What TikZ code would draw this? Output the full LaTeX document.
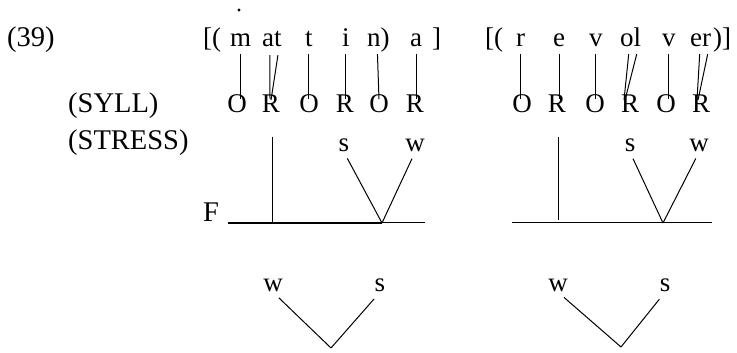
\documentclass[tikz,border=0pt]{standalone}
\usepackage{fontspec}
\setmainfont{Liberation Serif}
\begin{document}
\begin{tikzpicture}[x=1pt,y=1pt,
  every node/.style={inner sep=0pt, font=\fontsize{27}{31}\selectfont},
  big/.style={anchor=base west, font=\fontsize{28.5}{33}\selectfont},
  tok/.style={anchor=base west, text depth=0pt},
  syl/.style={anchor=base, text height=0.67em, text depth=0pt},
  lab/.style={anchor=base, text depth=0pt},
  conn/.style={line width=1pt},
  vl/.style={conn, shorten <=7pt, shorten >=7pt}]
\useasboundingbox (0,0) rectangle (737,353);
% labels
\node[big] (num) at (7,306) {(39)};
\node[big] (syll) at (68,240) {(SYLL)};
\node[big] (stress) at (68,203) {(STRESS)};
\node[big] (F) at (203,131) {F};
\node[circle, fill, minimum size=3.4pt] (dot) at (239,343) {};
% left word
\node[tok] (lb1) at (203,306) {[(};
\node[tok] (a1) at (230,306) {m};
\node[tok] (a2) at (262,306) {at};
\node[tok] (a3) at (305,306) {t};
\node[tok] (a4) at (342,306) {i};
\node[tok] (a5) at (367,306) {n)};
\node[tok] (a6) at (410,306) {a};
\node[tok] (rb1) at (432,306) {]};
\node[syl] (p1) at (237,240) {O};
\node[syl] (p2) at (271,240) {R};
\node[syl] (p3) at (309,240) {O};
\node[syl] (p4) at (345,240) {R};
\node[syl] (p5) at (379,240) {O};
\node[syl] (p6) at (415,240) {R};
\draw[vl] (a1.south) -- (a1.south |- p1.north);
\draw[conn] ([xshift=-2pt,yshift=-8pt]a2.south) -- ([xshift=-1pt,yshift=7pt]p2.north);
\draw[conn] ([xshift=6pt,yshift=-8pt]a2.south) -- ([xshift=0pt,yshift=6pt]p2.north);
\draw[vl] (a3.south) -- (a3.south |- p3.north);
\draw[vl] (a4.south) -- (a4.south |- p4.north);
\draw[conn] ([xshift=-1pt,yshift=-7pt]a5.south) -- ([yshift=7pt]p5.north);
\draw[vl] (a6.south) -- (a6.south |- p6.north);
% right word
\node[tok] (lb2) at (485,306) {[(};
\node[tok] (b1) at (516,306) {r};
\node[tok] (b2) at (553,306) {e};
\node[tok] (b3) at (589,306) {v};
\node[tok] (b4) at (620,306) {ol};
\node[tok] (b5) at (662,306) {v};
\node[tok] (b6) at (690,306) {er};
\node[tok] (rb2) at (713,306) {)]};
\node[syl] (q1) at (522,240) {O};
\node[syl] (q2) at (557,240) {R};
\node[syl] (q3) at (595,240) {O};
\node[syl] (q4) at (630,240) {R};
\node[syl] (q5) at (666,240) {O};
\node[syl] (q6) at (701,240) {R};
\draw[vl] (b1.south) -- (b1.south |- q1.north);
\draw[vl] (b2.south) -- (b2.south |- q2.north);
\draw[vl] (b3.south) -- (b3.south |- q3.north);
\draw[conn] ([xshift=-2pt,yshift=-7pt]b4.south) -- ([xshift=-6pt,yshift=6pt]q4.north);
\draw[conn] ([xshift=6pt,yshift=-7pt]b4.south) -- ([xshift=-5pt,yshift=6pt]q4.north);
\draw[vl] (b5.south) -- (b5.south |- q5.north);
\draw[conn] ([xshift=-1pt,yshift=-7pt]b6.south) -- ([xshift=-4pt,yshift=6pt]q6.north);
\draw[conn] ([xshift=7pt,yshift=-7pt]b6.south) -- ([xshift=-3pt,yshift=6pt]q6.north);
% stress level, left
\coordinate (fl1) at (228,130);
\coordinate (fr1) at (425,130);
\coordinate (v1) at (382,130);
\coordinate (st1) at (272,216);
\coordinate (sb1) at (272,130);
\draw[line width=1.5pt] (fl1) -- (v1);
\draw[conn] (v1) -- (fr1);
\draw[conn] (st1) -- (sb1);
\node[lab] (s1) at (344,201) {s};
\node[lab] (w1) at (415,201) {w};
\draw[conn, shorten <=7pt] (s1.south) -- (v1);
\draw[conn, shorten <=7pt] (w1.south) -- (v1);
% stress level, right
\coordinate (fl2) at (512,130);
\coordinate (fr2) at (712,130);
\coordinate (v2) at (663,130);
\coordinate (st2) at (558,216);
\coordinate (sb2) at (558,133);
\draw[conn] (fl2) -- (fr2);
\draw[conn] (st2) -- (sb2);
\node[lab] (s2) at (630,201) {s};
\node[lab] (w2) at (699,201) {w};
\draw[conn, shorten <=7pt] (s2.south) -- (v2);
\draw[conn, shorten <=7pt] (w2.south) -- (v2);
% bottom trees
\node[lab] (bw1) at (273,61) {w};
\node[lab] (bs1) at (380,61) {s};
\coordinate (bv1) at (331,5);
\draw[conn, shorten <=8pt] (bw1.south) -- (bv1);
\draw[conn, shorten <=9pt] (bs1.south) -- (bv1);
\node[lab] (bw2) at (558,61) {w};
\node[lab] (bs2) at (665,61) {s};
\coordinate (bv2) at (621,6);
\draw[conn, shorten <=8pt] (bw2.south) -- (bv2);
\draw[conn, shorten <=9pt] (bs2.south) -- (bv2);
\end{tikzpicture}
\end{document}
